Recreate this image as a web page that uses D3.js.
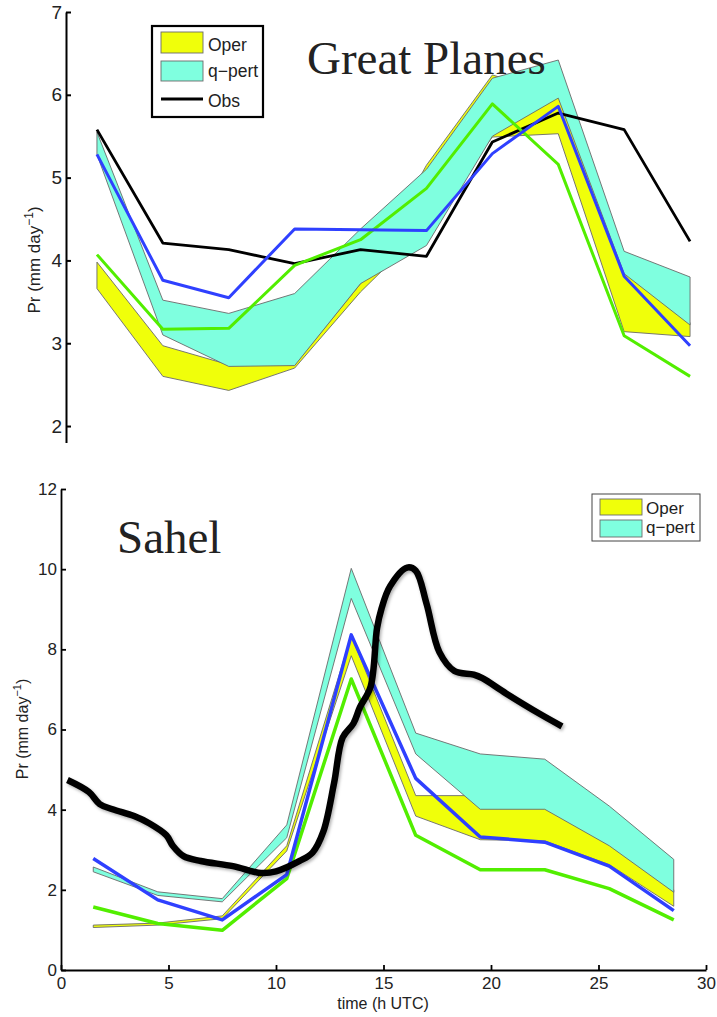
<!DOCTYPE html>
<html>
<head>
<meta charset="utf-8">
<script src="https://cdn.jsdelivr.net/npm/d3@7"></script>
<style>
  html, body { margin: 0; padding: 0; background: #fff; }
  svg { display: block; }
  text { font-family: "Liberation Sans", Arial, Helvetica, sans-serif; fill: #222; }
</style>
</head>
<body>
<svg id="chart" width="717" height="1017"></svg>
<script>
// ---------------- DATA ----------------
const times = [1.5, 4.5, 7.5, 10.5, 13.5, 16.5, 19.5, 22.5, 25.5, 28.5];

// Great Planes (top panel)
const gpOperLow  = [3.66, 2.60, 2.43, 2.70, 3.62, 4.40, 5.49, 5.53, 3.14, 3.08];
const gpOperHigh = [3.98, 2.97, 2.74, 2.74, 3.72, 5.15, 6.24, 6.00, 3.86, 3.25];
const gpQLow     = [5.28, 3.10, 2.72, 2.73, 3.72, 4.18, 5.50, 5.96, 3.84, 3.22];
const gpQHigh    = [5.55, 3.52, 3.36, 3.60, 4.38, 5.10, 6.20, 6.42, 4.11, 3.80];
const gpObs      = [5.58, 4.21, 4.13, 3.96, 4.13, 4.05, 5.43, 5.78, 5.58, 4.23];
const gpBlue     = [5.28, 3.76, 3.55, 4.38, 4.37, 4.36, 5.29, 5.86, 3.81, 2.97];
const gpGreen    = [4.07, 3.17, 3.18, 3.94, 4.25, 4.87, 5.89, 5.16, 3.09, 2.60];
const gpYTicks   = [2, 3, 4, 5, 6, 7];

// Sahel (bottom panel)
const shOperLow  = [1.06, 1.12, 1.28, 2.97, 7.84, 3.84, 3.25, 3.22, 2.63, 1.59];
const shOperHigh = [1.12, 1.17, 1.35, 3.10, 8.35, 4.35, 4.35, 4.30, 3.30, 2.00];
const shQLow     = [2.45, 1.86, 1.70, 3.30, 9.27, 5.39, 4.01, 4.01, 3.10, 1.94];
const shQHigh    = [2.57, 1.95, 1.78, 3.62, 10.02, 5.91, 5.39, 5.26, 4.09, 2.76];
const shBlue     = [2.78, 1.75, 1.25, 2.38, 8.36, 4.78, 3.32, 3.19, 2.59, 1.48];
const shGreen    = [1.57, 1.16, 0.99, 2.28, 7.26, 3.36, 2.50, 2.50, 2.03, 1.25];
const shObsTime  = [0.3, 1.3, 1.8, 2.4, 3.4, 4.1, 4.9, 5.2, 5.7, 6.5, 8.0, 9.3, 10.0, 11.1, 11.7, 12.2, 12.7, 13.1, 13.6, 13.9, 14.4, 14.7, 14.9, 15.3, 16.1, 16.5, 17.0, 17.6, 18.3, 19.2, 19.6, 20.7, 22.3, 23.3];
const shObs      = [4.74, 4.44, 4.14, 4.01, 3.84, 3.66, 3.36, 3.10, 2.84, 2.72, 2.59, 2.42, 2.46, 2.72, 2.93, 3.45, 4.66, 5.80, 6.15, 6.55, 7.07, 8.53, 9.00, 9.57, 10.04, 9.96, 9.14, 7.93, 7.46, 7.37, 7.28, 6.90, 6.38, 6.08];
const shYTicks   = [0, 2, 4, 6, 8, 10, 12];
const shXTicks   = [0, 5, 10, 15, 20, 25, 30];

const legendLabels = ["Oper", "q\u2212pert", "Obs"];

// ---------------- STYLE ----------------
const C_OPER = "#f0ff0a";
const C_Q    = "#7fffdf";
const C_BLUE = "#2f40ff";
const C_GREEN= "#52ee00";
const C_EDGE = "#6a6a6a";

const svg = d3.select("#chart");
const defs = svg.append("defs");
const f = defs.append("filter").attr("id","shadow").attr("x","-10%").attr("y","-10%").attr("width","130%").attr("height","130%");
f.append("feDropShadow").attr("dx",1.5).attr("dy",2).attr("stdDeviation",1.5).attr("flood-color","#000").attr("flood-opacity",0.3);

function idx(arr){ return arr.map((d,i)=>i); }

function drawBand(g, x, y, lo, hi, color){
  const area = d3.area().x(i=>x(times[i])).y0(i=>y(lo[i])).y1(i=>y(hi[i]));
  g.append("path").attr("d", area(idx(times)))
    .attr("fill", color).attr("stroke", C_EDGE).attr("stroke-width", 0.9);
}
function drawLine(g, x, y, xs, vals, color, w, curve){
  const line = d3.line().x(i=>x(xs[i])).y(i=>y(vals[i]));
  if (curve) line.curve(curve);
  return g.append("path").attr("d", line(idx(xs)))
    .attr("fill","none").attr("stroke", color).attr("stroke-width", w)
    .attr("stroke-linejoin","round").attr("stroke-linecap","butt");
}

// ---------------- TOP PANEL ----------------
{
  const x = d3.scaleLinear().domain([0, 30]).range([64, 723]);
  const y = d3.scaleLinear().domain([1.8, 7]).range([442.6, 12]);
  const g = svg.append("g");

  drawBand(g, x, y, gpOperLow, gpOperHigh, C_OPER);
  drawBand(g, x, y, gpQLow, gpQHigh, C_Q);
  drawLine(g, x, y, times, gpObs, "#000", 2.8);
  drawLine(g, x, y, times, gpGreen, C_GREEN, 3);
  drawLine(g, x, y, times, gpBlue, C_BLUE, 3);

  const ax = g.append("g").attr("transform","translate(66,0)")
    .call(d3.axisLeft(y).tickValues(gpYTicks).tickFormat(d3.format("d")).tickSize(-5).tickSizeOuter(0).tickPadding(4));
  ax.select(".domain").attr("stroke","#000").attr("stroke-width",2);
  ax.selectAll(".tick line").attr("stroke","#000").attr("stroke-width",2);
  ax.selectAll(".tick text").attr("font-size",19).attr("fill","#222").attr("font-family","Liberation Sans, Arial, sans-serif");

  const yl = g.append("text").attr("transform","translate(40,260) rotate(-90)")
    .attr("text-anchor","middle").attr("font-size",17);
  yl.append("tspan").text("Pr (mm day");
  yl.append("tspan").attr("font-size",12).attr("dy",-7).text("\u22121");
  yl.append("tspan").attr("dy",7).text(")");

  g.append("text").attr("x",307).attr("y",74).attr("font-size",47)
    .style("font-family","'Liberation Serif','Times New Roman',serif").attr("fill","#000").text("Great Planes");

  // legend
  const lg = g.append("g");
  lg.append("rect").attr("x",152).attr("y",26).attr("width",111).attr("height",91)
    .attr("fill","#fff").attr("stroke","#000").attr("stroke-width",2.2);
  lg.append("rect").attr("x",161).attr("y",32).attr("width",42).attr("height",21)
    .attr("fill",C_OPER).attr("stroke",C_EDGE).attr("stroke-width",0.9);
  lg.append("rect").attr("x",161).attr("y",61).attr("width",42).attr("height",20)
    .attr("fill",C_Q).attr("stroke",C_EDGE).attr("stroke-width",0.9);
  lg.append("line").attr("x1",161).attr("x2",203).attr("y1",99).attr("y2",99)
    .attr("stroke","#000").attr("stroke-width",3);
  [[51,0],[77,1],[107,2]].forEach(([by,i])=>{
    lg.append("text").attr("x",208).attr("y",by).attr("font-size",17.5).text(legendLabels[i]);
  });
}

// ---------------- BOTTOM PANEL ----------------
{
  const x = d3.scaleLinear().domain([0, 30]).range([61, 706]);
  const y = d3.scaleLinear().domain([0, 12]).range([970, 489]);
  const g = svg.append("g");

  drawBand(g, x, y, shOperLow, shOperHigh, C_OPER);
  drawBand(g, x, y, shQLow, shQHigh, C_Q);
  drawLine(g, x, y, times, shGreen, C_GREEN, 3.5);
  drawLine(g, x, y, times, shBlue, C_BLUE, 3.5);
  drawLine(g, x, y, shObsTime, shObs, "#000", 6.5, d3.curveCatmullRom.alpha(0.5))
    .attr("filter","url(#shadow)");

  const ay = g.append("g").attr("transform","translate(61,0)")
    .call(d3.axisLeft(y).tickValues(shYTicks).tickFormat(d3.format("d")).tickSize(-5).tickSizeOuter(0).tickPadding(4));
  const axx = g.append("g").attr("transform","translate(0,970)")
    .call(d3.axisBottom(x).tickValues(shXTicks).tickFormat(d3.format("d")).tickSize(-5).tickSizeOuter(0).tickPadding(7));
  [ay, axx].forEach(a=>{
    a.select(".domain").attr("stroke","#000").attr("stroke-width",1.8);
    a.selectAll(".tick line").attr("stroke","#000").attr("stroke-width",1.8);
    a.selectAll(".tick text").attr("font-size",17).attr("fill","#222").attr("font-family","Liberation Sans, Arial, sans-serif");
  });

  const yl = g.append("text").attr("transform","translate(28,729) rotate(-90)")
    .attr("text-anchor","middle").attr("font-size",16);
  yl.append("tspan").text("Pr (mm day");
  yl.append("tspan").attr("font-size",11).attr("dy",-7).text("\u22121");
  yl.append("tspan").attr("dy",7).text(")");

  g.append("text").attr("x",383).attr("y",1009).attr("text-anchor","middle")
    .attr("font-size",16).text("time (h UTC)");

  g.append("text").attr("x",117).attr("y",553).attr("font-size",47)
    .style("font-family","'Liberation Serif','Times New Roman',serif").attr("fill","#000").text("Sahel");

  const lg = g.append("g");
  lg.append("rect").attr("x",592).attr("y",494).attr("width",108).attr("height",47)
    .attr("fill","#fff").attr("stroke","#444").attr("stroke-width",1);
  lg.append("rect").attr("x",600).attr("y",499).attr("width",42).attr("height",16)
    .attr("fill",C_OPER).attr("stroke",C_EDGE).attr("stroke-width",0.9);
  lg.append("rect").attr("x",600).attr("y",520).attr("width",42).attr("height",17)
    .attr("fill",C_Q).attr("stroke",C_EDGE).attr("stroke-width",0.9);
  lg.append("text").attr("x",646).attr("y",514).attr("font-size",17).text(legendLabels[0]);
  lg.append("text").attr("x",646).attr("y",533).attr("font-size",17).text(legendLabels[1]);
}
</script>
</body>
</html>
